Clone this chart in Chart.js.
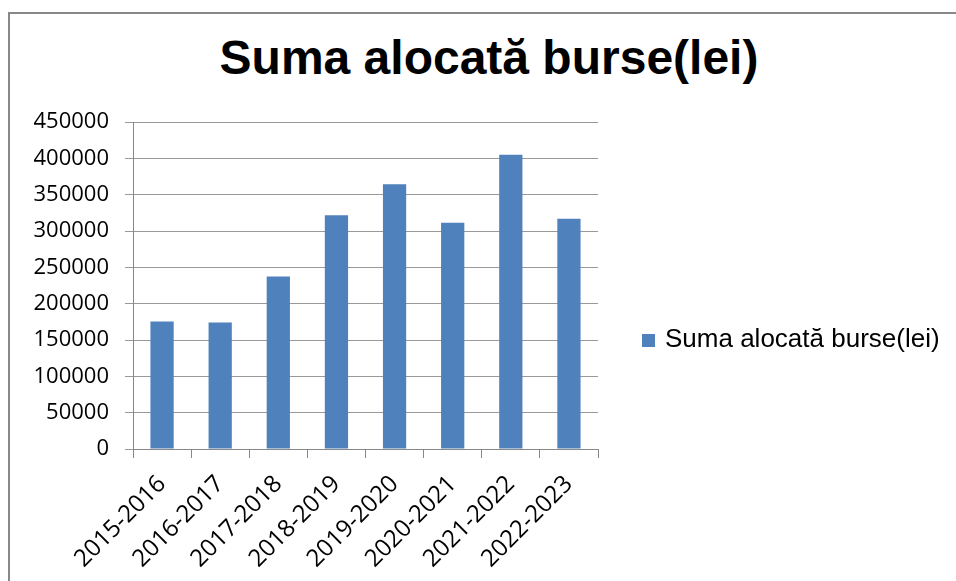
<!DOCTYPE html>
<html>
<head>
<meta charset="utf-8">
<script src="https://cdn.jsdelivr.net/npm/chart.js@4.4.0/dist/chart.umd.min.js"></script>
<style>
  body { margin: 0; background: #fff; overflow: hidden; }
  #wrap { position: relative; width: 956px; height: 581px; }
  .frame { position: absolute; left: 8px; top: 12px; width: 1000px; height: 640px;
           border-left: 2px solid #888; border-top: 2px solid #888; }
  .title { position: absolute; left: 0; top: 34px; width: 978px; text-align: center;
           font: bold 48px "Liberation Sans", Arial, sans-serif; line-height: 1; color: #000; }
  #chart { position: absolute; left: 0; top: 0; }
  .legend { position: absolute; left: 642px; top: 323px; font: 26px "Liberation Sans", Arial, sans-serif;
            line-height: 30px; color: #000; white-space: nowrap; }
  .legend .box { display: inline-block; width: 13px; height: 13px; margin-right: 10px; vertical-align: 0px; }
</style>
</head>
<body>
<div id="wrap">
  <div class="frame"></div>
  <div class="title">Suma alocată burse(lei)</div>
  <canvas id="chart" width="956" height="581"></canvas>
  <div class="legend" id="legend"></div>
</div>
<script>
const years = ['2015-2016', '2016-2017', '2017-2018', '2018-2019', '2019-2020', '2020-2021', '2021-2022', '2022-2023'];
const burse = [175600, 174200, 237400, 321700, 364300, 311200, 405100, 316700];
const yTicks = [0, 50000, 100000, 150000, 200000, 250000, 300000, 350000, 400000, 450000];
const seriesName = 'Suma alocată burse(lei)';
const barColor = '#4F81BD';

const ctx = document.getElementById('chart').getContext('2d');
const chart = new Chart(ctx, {
    type: 'bar',
    data: {
        labels: years,
        datasets: [{
            label: seriesName,
            data: burse,
            backgroundColor: barColor,
            barPercentage: 0.4,
            categoryPercentage: 1
        }]
    },
    options: {
        responsive: false,
        animation: false,
        devicePixelRatio: 1,
        layout: { padding: { left: 0, right: 358, top: 122, bottom: 0 } },
        plugins: {
            legend: { display: false },
            title: { display: false },
            tooltip: { enabled: false }
        },
        scales: {
            x: {
                grid: { offset: true, drawOnChartArea: false, drawTicks: true, tickLength: 9, color: '#888' },
                border: { color: '#888', width: 1 },
                ticks: { autoSkip: false, maxRotation: 45, minRotation: 45, padding: 12,
                         font: { family: 'Open Sans', size: 24 }, color: '#000' },
                afterFit: function (scale) { scale.height = 132; }
            },
            y: {
                min: 0,
                max: 450000,
                afterBuildTicks: function (axis) { axis.ticks = yTicks.map(v => ({ value: v })); },
                grid: { color: '#999', tickLength: 8 },
                border: { color: '#888', width: 1 },
                ticks: { padding: 16, font: { family: 'Open Sans', size: 22 }, color: '#000',
                         callback: v => String(v) },
                afterFit: function (scale) { scale.width = 133; }
            }
        }
    }
});

// legend built from the dataset
const ds = chart.data.datasets[0];
document.getElementById('legend').innerHTML =
    '<span class="box" style="background:' + ds.backgroundColor + '"></span>' + ds.label;
</script>
</body>
</html>
